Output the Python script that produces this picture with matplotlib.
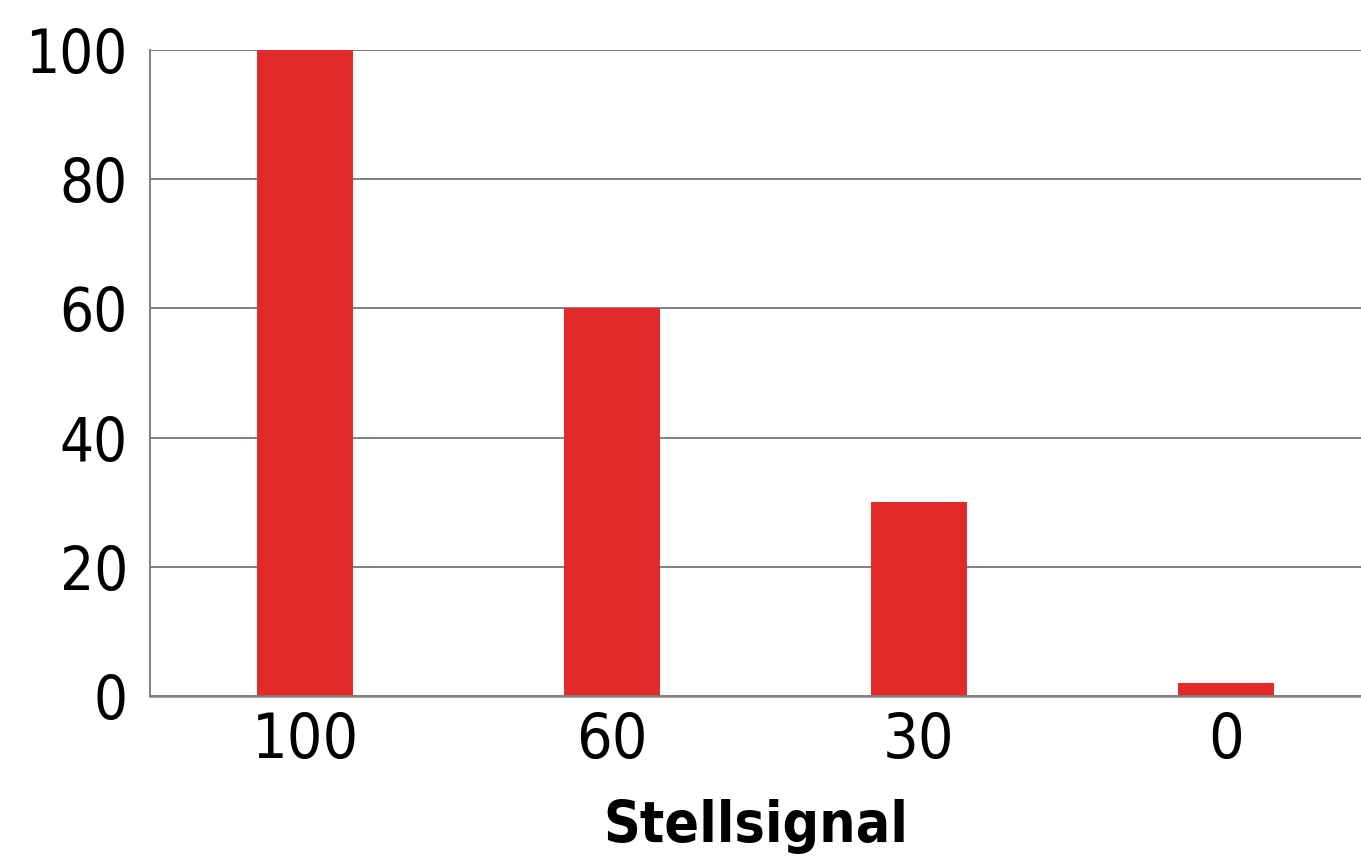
import matplotlib
matplotlib.use("Agg")
import matplotlib.pyplot as plt
from matplotlib import font_manager as fm

categories = ["100", "60", "30", "0"]
values = [100, 60, 30, 2]
yticks = [0, 20, 40, 60, 80, 100]


def find_condensed(bold):
    for f in fm.fontManager.ttflist:
        key = (f.name + " " + f.fname).lower()
        cond = ("condensed" in key or "narrow" in key or
                str(f.stretch) in ("condensed", "semi-condensed", "extra-condensed"))
        if not cond:
            continue
        w = f.weight if isinstance(f.weight, int) else (700 if "bold" in str(f.weight) else 400)
        if "italic" in key or "oblique" in key or f.style != "normal":
            continue
        if bold and 600 <= w <= 800:
            return f.fname
        if not bold and w == 400:
            return f.fname
    return None


reg = find_condensed(False)
bld = find_condensed(True)
tick_fp = fm.FontProperties(fname=reg, size=45) if reg else fm.FontProperties(family="DejaVu Sans", size=40)
ytick_fp = fm.FontProperties(fname=reg, size=43) if reg else fm.FontProperties(family="DejaVu Sans", size=38)
lab_fp = fm.FontProperties(fname=bld, size=41) if bld else fm.FontProperties(family="DejaVu Sans", weight="bold", size=36)

fig = plt.figure(figsize=(13.61, 8.64), dpi=100)
ax = fig.add_axes([150/1361, 1-696/864, 1-150/1361, (696-50)/864])

x = list(range(len(categories)))
ax.bar(x, values, width=0.31, color="#E32A2A", zorder=3)
ax.set_xlim(-0.505, 3.44)
ax.set_ylim(0, 100)
ax.set_yticks(yticks)
ax.set_xticks(x)
ax.set_xticklabels(categories)
ax.yaxis.grid(True, color="#808080", linewidth=1.4, zorder=1)
ax.set_axisbelow(True)
for s in ["top", "right"]:
    ax.spines[s].set_visible(False)
ax.spines["left"].set_color("#808080")
ax.spines["left"].set_linewidth(1.4)
ax.spines["bottom"].set_color("#808080")
ax.spines["bottom"].set_linewidth(1.8)
ax.spines["bottom"].set_zorder(4)
ax.tick_params(axis="both", length=0, colors="black")
ax.tick_params(axis="y", pad=16)
ax.tick_params(axis="x", pad=11)
for lbl in ax.get_xticklabels():
    lbl.set_fontproperties(tick_fp)
for lbl in ax.get_yticklabels():
    lbl.set_fontproperties(ytick_fp)
ax.set_xlabel("Stellsignal", fontproperties=lab_fp, labelpad=20)

fig.savefig("out.png", dpi=100)
